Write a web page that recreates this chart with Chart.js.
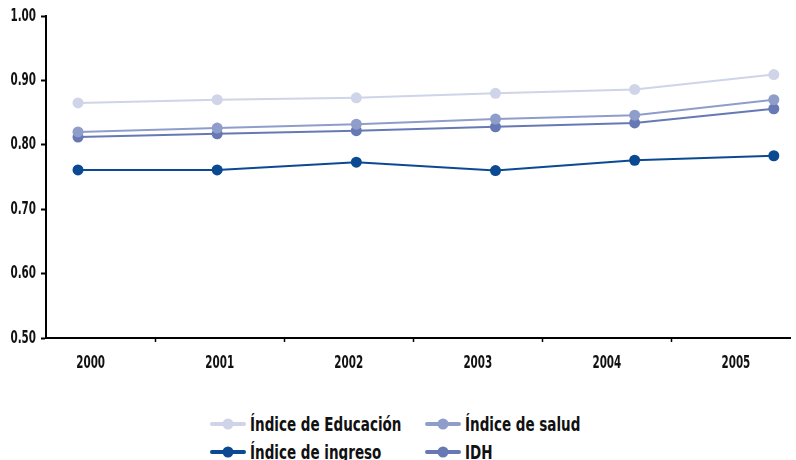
<!DOCTYPE html>
<html>
<head>
<meta charset="utf-8">
<script src="https://cdn.jsdelivr.net/npm/chart.js@4/dist/chart.umd.min.js"></script>
<style>
    body { margin: 0; background: #fff; width: 796px; height: 460px; overflow: hidden; position: relative; }
    #wrap { position: absolute; left: 0; top: 0; width: 796px; height: 380px; }
    #legend {
        position: absolute; left: 210px; top: 412px;
        display: grid; grid-template-columns: 215px 200px; row-gap: 5px;
        font-family: 'DejaVu Sans Condensed', 'DejaVu Sans', sans-serif;
        font-weight: bold; font-size: 19px; color: #111;
    }
    .item { display: flex; align-items: center; height: 23px; white-space: nowrap; }
    .item canvas { margin-right: 4px; }
    .item span { display: inline-block; transform: scaleX(0.79); transform-origin: left center; }
</style>
</head>
<body>
<div id="wrap"><canvas id="idhChart"></canvas></div>
<div id="legend"></div>
<script>
// Data
const years = ['2000', '2001', '2002', '2003', '2004', '2005'];
const educacion = [0.865, 0.870, 0.873, 0.880, 0.886, 0.909];
const salud = [0.820, 0.826, 0.832, 0.840, 0.846, 0.870];
const ingreso = [0.761, 0.761, 0.773, 0.760, 0.776, 0.783];
const idh = [0.812, 0.817, 0.822, 0.828, 0.834, 0.856];
const seriesNames = ['Índice de Educación', 'Índice de salud', 'Índice de ingreso', 'IDH'];
const seriesColors = ['#cfd4e8', '#8f9dcb', '#0b4a93', '#6679b4'];
const yTicks = [0.5, 0.6, 0.7, 0.8, 0.9, 1.0];

const labelFont = "bold 18px 'DejaVu Sans Condensed', 'DejaVu Sans', sans-serif";
const squeeze = 0.64;

const seriesValues = [educacion, salud, ingreso, idh];

function makeDataset(i) {
    return {
        label: seriesNames[i],
        data: seriesValues[i].map((v, k) => ({ x: k, y: v })),
        borderColor: seriesColors[i],
        backgroundColor: seriesColors[i],
        pointBackgroundColor: seriesColors[i],
        pointBorderWidth: 0,
        pointRadius: 5.5,
        borderWidth: 2,
        tension: 0,
        xAxisID: 'x',
        yAxisID: 'y'
    };
}

// tick labels drawn condensed (the original uses a narrow bold face)
const narrowLabels = {
    id: 'narrowLabels',
    afterDraw: function(chart) {
        const c = chart.ctx;
        const ys = chart.scales.y, xs = chart.scales.x2;
        c.save();
        c.font = labelFont;
        c.fillStyle = '#111';
        c.textBaseline = 'middle';
        c.textAlign = 'right';
        yTicks.forEach(v => {
            const py = ys.getPixelForValue(v);
            c.save();
            c.translate(36, py);
            c.scale(squeeze, 1);
            c.fillText(v.toFixed(2), 0, 0);
            c.restore();
        });
        c.textAlign = 'center';
        years.forEach((yr, k) => {
            const px = xs.getPixelForValue(k);
            c.save();
            c.translate(px, chart.chartArea.bottom + 25);
            c.scale(squeeze, 1);
            c.fillText(yr, 0, 0);
            c.restore();
        });
        c.restore();
    }
};

const ctx = document.getElementById('idhChart').getContext('2d');
const chart = new Chart(ctx, {
    type: 'line',
    data: { datasets: [makeDataset(0), makeDataset(1), makeDataset(3), makeDataset(2)] },
    options: {
        responsive: true,
        maintainAspectRatio: false,
        animation: false,
        layout: { padding: { top: 16, right: 0, left: 0, bottom: 0 } },
        scales: {
            x: { type: 'linear', display: false, min: -0.23, max: 5.12 },
            x2: {
                type: 'linear',
                position: 'bottom',
                min: -0.346, max: 5.423,
                afterBuildTicks: function(axis) {
                    axis.ticks = [0.5, 1.5, 2.5, 3.5, 4.5].map(v => ({ value: v }));
                },
                afterFit: function(axis) { axis.height = 42; },
                ticks: { display: false },
                grid: { drawOnChartArea: false, tickLength: 4, tickWidth: 1.5, tickColor: '#000' },
                border: { color: '#000', width: 2 }
            },
            y: {
                min: 0.5, max: 1.0,
                afterBuildTicks: function(axis) { axis.ticks = yTicks.map(v => ({ value: v })); },
                afterFit: function(axis) { axis.width = 46; },
                ticks: { display: false },
                grid: { drawOnChartArea: false, tickLength: 5, tickColor: '#000', tickWidth: 2 },
                border: { color: '#000', width: 2 }
            }
        },
        plugins: { legend: { display: false }, tooltip: { enabled: false } }
    },
    plugins: [narrowLabels]
});

// HTML legend built from the series lists
const legendEl = document.getElementById('legend');
[0, 1, 2, 3].forEach(i => {
    const item = document.createElement('div');
    item.className = 'item';
    const sw = document.createElement('canvas');
    sw.width = 36; sw.height = 14;
    const g = sw.getContext('2d');
    g.strokeStyle = seriesColors[i];
    g.lineWidth = 4;
    g.lineCap = 'round';
    g.beginPath(); g.moveTo(2, 7); g.lineTo(34, 7); g.stroke();
    g.fillStyle = seriesColors[i];
    g.beginPath(); g.arc(18, 7, 5.5, 0, Math.PI * 2); g.fill();
    item.appendChild(sw);
    const span = document.createElement('span');
    span.textContent = seriesNames[i];
    item.appendChild(span);
    legendEl.appendChild(item);
});
</script>
</body>
</html>
